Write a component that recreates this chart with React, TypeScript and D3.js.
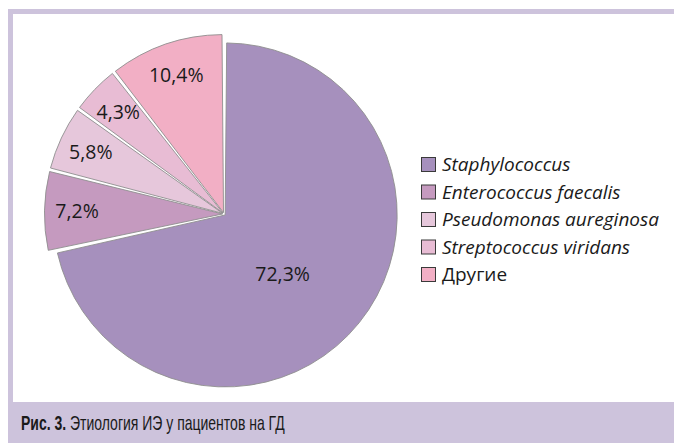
import React from 'react';
import * as d3 from 'd3';

// Этиология ИЭ у пациентов на ГД
const categories = [
  'Staphylococcus',
  'Enterococcus faecalis',
  'Pseudomonas aureginosa',
  'Streptococcus viridans',
  'Другие',
];
const values = [72.3, 7.2, 5.8, 4.3, 10.4];
const valueLabels = ['72,3%', '7,2%', '5,8%', '4,3%', '10,4%'];
const colors = ['#a690bd', '#c59abf', '#e6c7db', '#e8bcd4', '#f2afc5'];
const latinNames = [true, true, true, true, false];

const W = 674;
const H = 443;
const frameColor = '#cdc3dc';
const cx = 224;
const cy = 214;

export default function App() {
  const pie = d3
    .pie<number>()
    .sort(null)
    .value((d) => d)
    .padAngle(0.017);
  const slices = pie(values);

  const bigArc = d3.arc<d3.PieArcDatum<number>>().innerRadius(0).outerRadius(172).padRadius(177);
  const smallArc = d3.arc<d3.PieArcDatum<number>>().innerRadius(0).outerRadius(178).padRadius(177);

  const font = "'Open Sans', 'Noto Sans', sans-serif";
  const narrow = "'Liberation Sans', Arial, sans-serif";

  return (
    <svg
      width={W}
      height={H}
      style={{ position: 'absolute', left: 0, top: 0, display: 'block' }}
    >
      {/* рамка */}
      <rect x={8} y={9} width={W} height={H} fill={frameColor} />
      <rect x={13} y={14} width={W} height={388} fill="#ffffff" />

      <g transform={`translate(${cx},${cy})`}>
        {slices.map((s, i) => {
          const mid = (s.startAngle + s.endAngle) / 2;
          const ex = 1.5;
          const dx = Math.sin(mid) * ex;
          const dy = -Math.cos(mid) * ex;
          const arc = i === 0 ? bigArc : smallArc;
          return (
            <path
              key={categories[i]}
              d={arc(s) || ''}
              transform={`translate(${dx},${dy})`}
              fill={colors[i]}
              stroke="#8f8f8f"
              strokeWidth={0.9}
            />
          );
        })}
        {slices.map((s, i) => {
          let mid = (s.startAngle + s.endAngle) / 2;
          let r = 147;
          if (i === 0) {
            mid += 0.12;
            r = 84;
          }
          const x = Math.sin(mid) * r;
          const y = -Math.cos(mid) * r;
          return (
            <text
              key={'l' + i}
              x={x}
              y={y}
              dy="0.35em"
              textAnchor="middle"
              fontFamily={font}
              fontSize={19.5}
              fill="#1a1a1a"
            >
              {valueLabels[i]}
            </text>
          );
        })}
      </g>

      {/* легенда */}
      <g transform="translate(421,157)">
        {categories.map((c, i) => (
          <g key={c} transform={`translate(0,${i * 27.5})`}>
            <rect x={0.5} y={0.5} width={14} height={14} fill={colors[i]} stroke="#3a3a3a" strokeWidth={1} />
            <text
              x={21}
              y={14}
              fontFamily={font}
              fontSize={19}
              fontStyle={latinNames[i] ? 'italic' : 'normal'}
              fill="#1a1a1a"
            >
              {c}
            </text>
          </g>
        ))}
      </g>

      {/* подпись */}
      <g transform="translate(21,430) scale(0.7,1)">
        <text x={0} y={0} fontFamily={narrow} fontSize={20} fill="#1a1a1a">
          <tspan fontWeight="bold">Рис. 3.</tspan>
          <tspan> Этиология ИЭ у пациентов на ГД</tspan>
        </text>
      </g>
    </svg>
  );
}
